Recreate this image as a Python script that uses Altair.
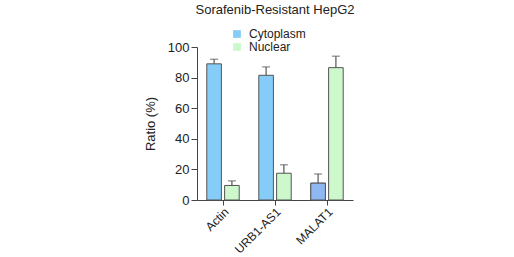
import altair as alt
import pandas as pd

genes = ["Actin", "URB1-AS1", "MALAT1"]
compartments = ["Cytoplasm", "Nuclear"]
cyto_vals = [89, 81.5, 11]
cyto_err = [3, 5.5, 6]
nuc_vals = [9.5, 17.5, 86.5]
nuc_err = [3, 5.5, 7.5]

rows = []
for g, v, e in zip(genes, cyto_vals, cyto_err):
    rows.append({"gene": g, "comp": "Cytoplasm", "value": v, "top": v + e})
for g, v, e in zip(genes, nuc_vals, nuc_err):
    rows.append({"gene": g, "comp": "Nuclear", "value": v, "top": v + e})
df = pd.DataFrame(rows)

FONT = "Liberation Sans"

x = alt.X("gene:N", sort=genes, title=None,
          scale=alt.Scale(paddingInner=0, paddingOuter=0),
          axis=alt.Axis(labelAngle=-45, labelAlign="right", labelBaseline="top",
                        labelFontSize=12, labelFont=FONT, labelColor="#222",
                        tickSize=5, tickColor="#444", domainColor="#444",
                        labelPadding=1, labelOverlap=False))
xo = alt.XOffset("comp:N", sort=compartments,
                 scale=alt.Scale(paddingInner=0.18, paddingOuter=0.55))
yscale = alt.Scale(domain=[0, 100], nice=False)
yaxis = alt.Axis(values=[0, 20, 40, 60, 80, 100], grid=False,
                 labelOverlap=False,
                 labelFontSize=13, labelFont=FONT, labelColor="#222",
                 titleFontSize=13, titleFont=FONT, titleFontWeight="normal",
                 titleColor="#222", titlePadding=10,
                 tickSize=6, tickColor="#444", domainColor="#444")
YT = "Ratio (%)"

color = alt.Color("comp:N", sort=compartments, title=None,
                  scale=alt.Scale(domain=compartments, range=["#86CCF8", "#CCF8CC"]),
                  legend=alt.Legend(orient="none", legendX=34, legendY=-19,
                                    symbolType="square", symbolSize=60,
                                    symbolStrokeWidth=0,
                                    labelFontSize=12, labelFont=FONT, labelColor="#222",
                                    rowPadding=1, labelOffset=6, padding=0))

base = alt.Chart(df)

bars = base.mark_bar(stroke="#555", strokeWidth=1).encode(
    x=x, xOffset=xo, y=alt.Y("value:Q", title=YT, scale=yscale, axis=yaxis), color=color)
err = base.mark_rule(color="#555", strokeWidth=1.2).encode(
    x=x, xOffset=xo, y=alt.Y("value:Q", title=YT, scale=yscale, axis=yaxis), y2="top:Q")
cap = base.mark_tick(color="#555", thickness=1.2, size=8, orient="horizontal").encode(
    x=x, xOffset=xo, y=alt.Y("top:Q", title=YT, scale=yscale, axis=yaxis))
special = base.transform_filter(
    (alt.datum.gene == "MALAT1") & (alt.datum.comp == "Cytoplasm")
).mark_bar(stroke="#555", strokeWidth=1, color="#8DB8F2").encode(
    x=x, xOffset=xo, y=alt.Y("value:Q", title=YT, scale=yscale, axis=yaxis))

chart = alt.layer(bars, err, cap, special).properties(
    width=156, height=153,
    background="white",
    title=alt.TitleParams("Sorafenib-Resistant HepG2", fontSize=13, font=FONT,
                          fontWeight="normal", color="#222", offset=11, anchor="middle"),
    autosize=alt.AutoSizeParams(type="none"),
    padding={"left": 197, "top": 47, "right": 161, "bottom": 57},
).configure_view(stroke=None)

chart.save("out.html", embed_options={"renderer": "svg", "actions": False})
